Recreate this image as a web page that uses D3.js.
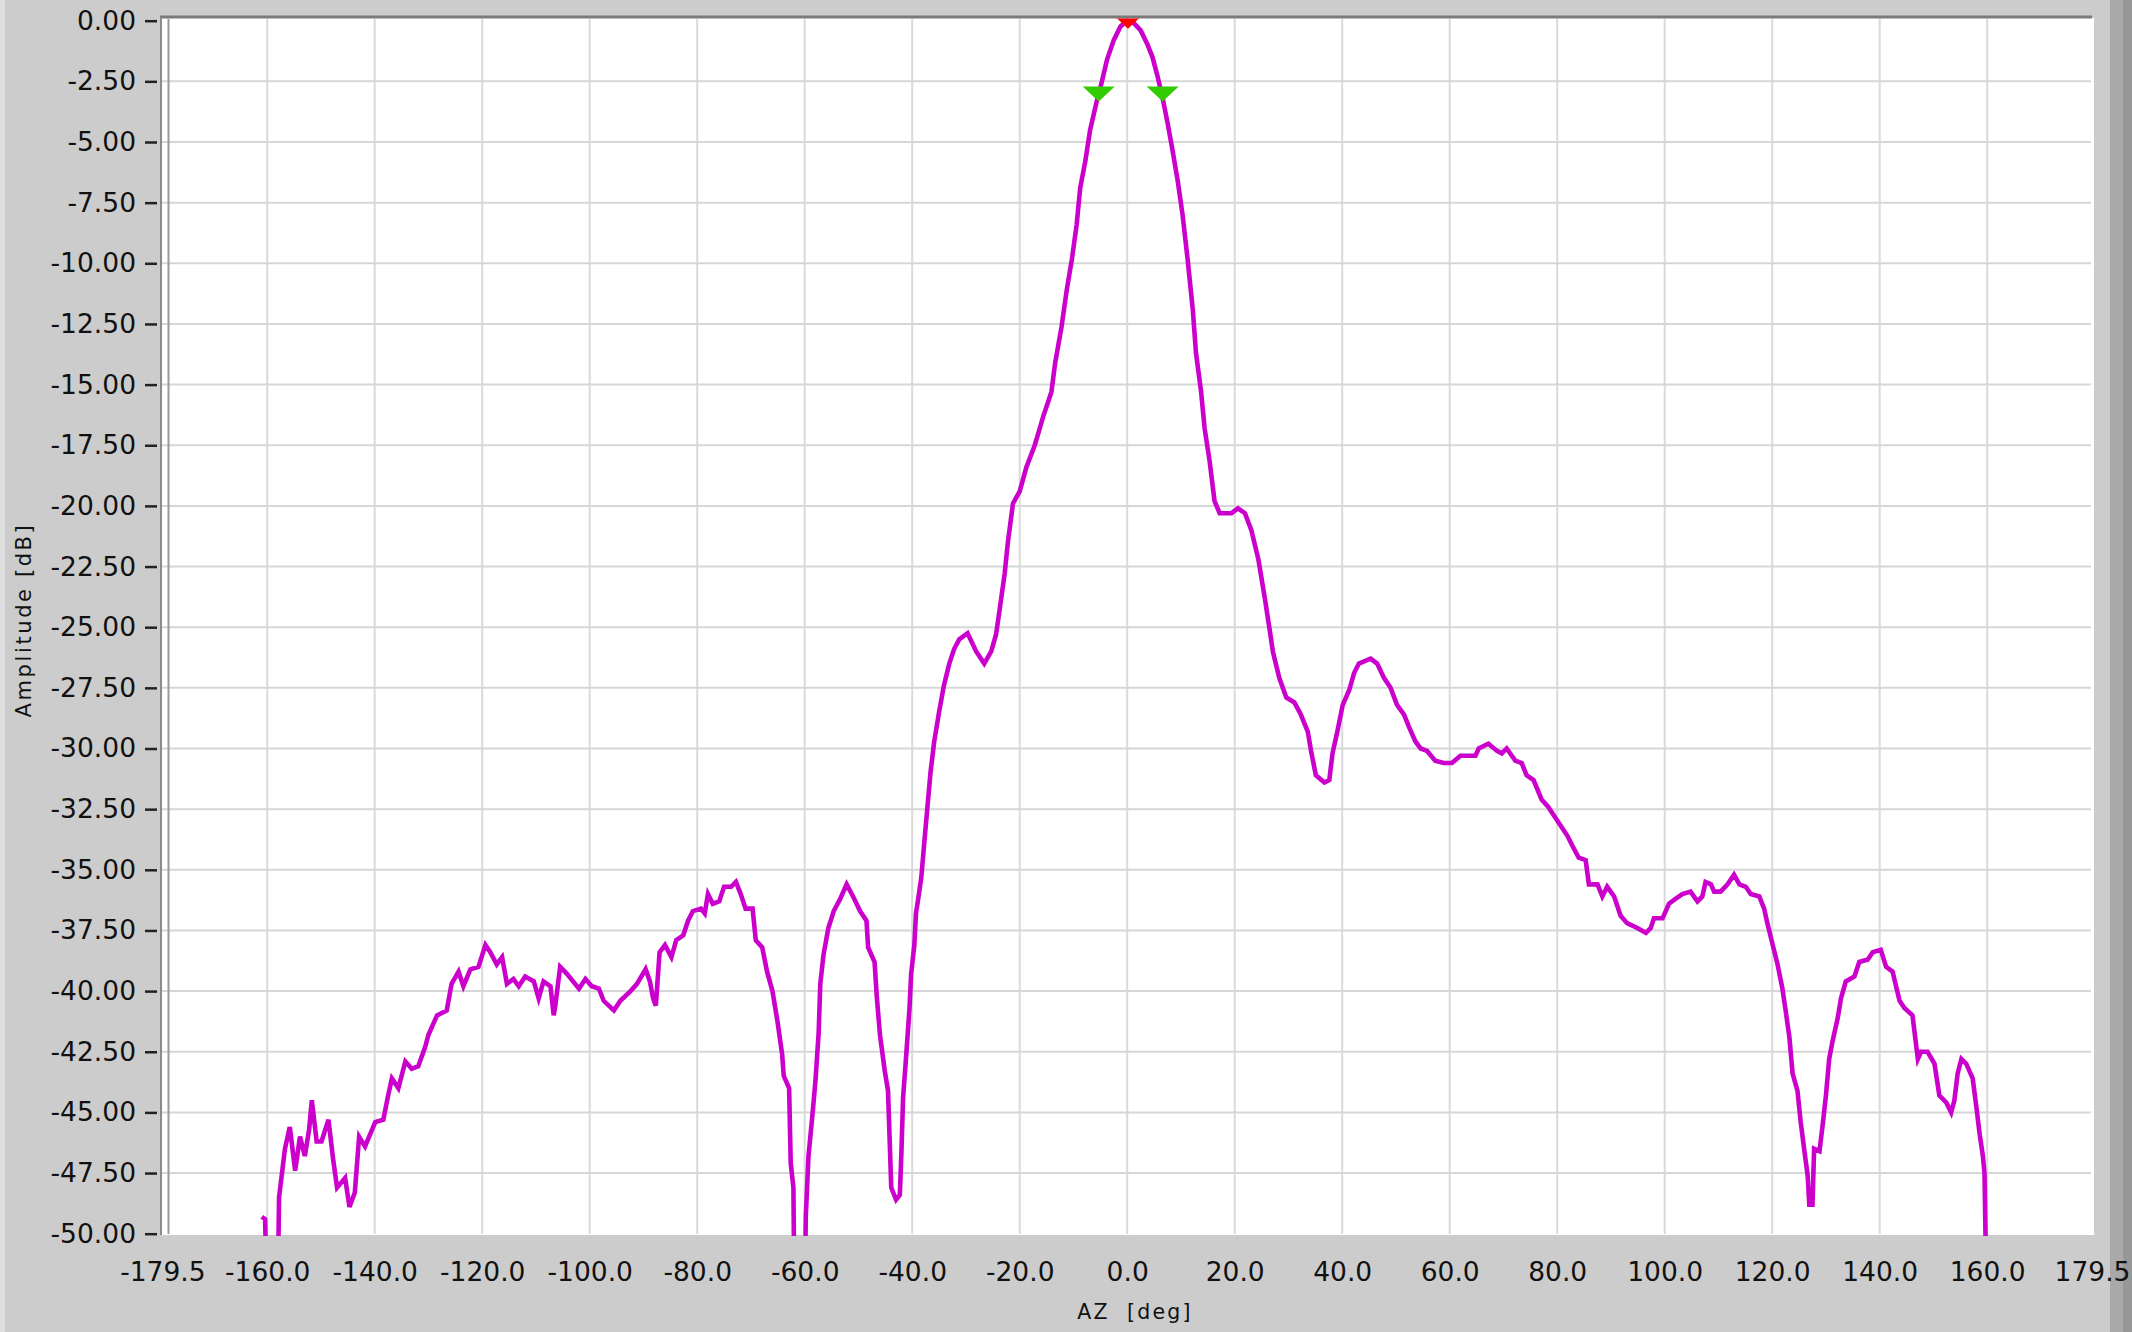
<!DOCTYPE html>
<html>
<head>
<meta charset="utf-8">
<script src="https://cdn.jsdelivr.net/npm/d3@7"></script>
<style>
  html, body { margin: 0; padding: 0; background: #cccccc; overflow: hidden; }
  text { font-family: "DejaVu Sans", Verdana, sans-serif; fill: #111; }
</style>
</head>
<body>
<svg id="chart" width="2132" height="1332"></svg>
<script>
// antenna pattern, azimuth cut
const azDeg = [
  -161.0, -160.4, -160.1, -158.0, -157.8, -157.3, -156.7, -155.8, -154.8, -153.9,
  -153.0, -152.2, -151.7, -150.8, -149.9, -148.6, -147.7, -147.0, -145.5, -144.7,
  -143.7, -142.9, -141.8, -139.9, -138.4, -137.5, -136.8, -135.6, -134.3, -133.1,
  -131.9, -130.6, -130.0, -128.4, -126.6, -125.7, -124.4, -123.5, -122.2, -120.7,
  -119.4, -118.5, -117.3, -116.3, -115.4, -114.2, -113.2, -112.0, -110.4, -109.5,
  -108.6, -107.3, -106.7, -106.4, -105.5, -104.2, -102.0, -100.8, -99.6, -98.3,
  -97.4, -95.5, -94.3, -92.4, -91.2, -89.6, -88.8, -88.2, -87.7, -87.0,
  -86.0, -84.8, -83.9, -82.6, -81.7, -80.8, -79.3, -78.6, -78.0, -77.1,
  -75.9, -75.0, -73.7, -72.8, -71.9, -71.0, -69.7, -69.1, -67.9, -67.0,
  -66.0, -65.1, -64.2, -63.9, -62.9, -62.6, -62.1, -61.9, -60.0, -59.8,
  -59.3, -58.6, -58.0, -57.4, -57.1, -56.5, -55.6, -54.6, -53.4, -52.2,
  -51.0, -49.7, -48.5, -48.2, -47.0, -46.6, -46.0, -45.1, -44.5, -44.2,
  -43.9, -43.0, -42.3, -42.0, -41.7, -41.1, -40.5, -40.2, -39.6, -39.3,
  -38.75, -38.3, -37.8, -37.2, -36.6, -35.9, -35.0, -34.1, -33.1, -32.2,
  -31.25, -29.7, -28.1, -26.6, -25.3, -24.4, -23.75, -22.8, -22.2, -21.25,
  -20.0, -18.75, -17.2, -15.6, -14.1, -13.4, -12.2, -11.25, -10.3, -9.4,
  -8.75, -7.8, -6.9, -5.6, -4.7, -3.75, -2.5, -1.25, 0.0, 1.25,
  2.5, 3.75, 4.7, 5.6, 6.6, 7.5, 8.4, 9.4, 10.3, 11.25,
  12.2, 12.8, 13.75, 14.4, 15.3, 16.25, 17.2, 19.4, 20.6, 21.9,
  23.1, 24.4, 25.6, 26.5, 27.1, 28.3, 29.6, 31.1, 32.3, 33.6,
  34.2, 35.1, 36.7, 37.6, 38.2, 39.1, 40.1, 41.3, 42.2, 43.1,
  45.3, 46.5, 47.8, 49.0, 50.2, 51.5, 52.4, 53.6, 54.6, 55.8,
  57.3, 58.9, 60.4, 62.0, 64.8, 65.4, 67.2, 68.8, 69.7, 70.6,
  72.2, 73.4, 74.3, 75.6, 77.1, 78.3, 80.1, 81.9, 82.8, 84.0,
  85.3, 85.9, 87.5, 88.4, 89.3, 90.6, 91.8, 93.0, 94.9, 96.5,
  97.4, 98.0, 99.6, 100.8, 102.0, 103.3, 104.8, 106.1, 107.0, 107.6,
  108.6, 109.2, 110.4, 111.7, 112.9, 113.9, 115.1, 116.0, 117.6, 118.5,
  119.1, 120.1, 121.0, 121.9, 122.5, 123.2, 123.8, 124.7, 125.3, 126.0,
  126.6, 126.9, 127.5, 127.8, 128.8, 129.4, 130.0, 130.6, 131.2, 132.2,
  132.8, 133.7, 135.3, 136.2, 137.8, 138.7, 140.2, 141.2, 142.4, 143.7,
  144.6, 146.1, 147.1, 147.7, 148.9, 150.2, 151.1, 152.4, 153.3, 153.9,
  154.5, 155.2, 156.1, 157.3, 158.0, 158.6, 159.2, 159.5, 159.9
];
const ampDb = [
  -49.3, -49.4, -52.0, -52.0, -48.5, -47.6, -46.5, -45.6, -47.4, -46.0,
  -46.8, -45.7, -44.5, -46.2, -46.2, -45.3, -47.0, -48.1, -47.7, -48.9,
  -48.3, -46.0, -46.4, -45.4, -45.3, -44.3, -43.6, -44.0, -42.9, -43.2,
  -43.1, -42.3, -41.8, -41.0, -40.8, -39.7, -39.2, -39.8, -39.1, -39.0,
  -38.1, -38.4, -38.9, -38.6, -39.7, -39.5, -39.8, -39.4, -39.6, -40.3,
  -39.6, -39.8, -41.0, -40.6, -39.0, -39.3, -39.9, -39.5, -39.8, -39.9,
  -40.4, -40.8, -40.4, -40.0, -39.7, -39.1, -39.6, -40.3, -40.6, -38.4,
  -38.1, -38.6, -37.9, -37.7, -37.1, -36.7, -36.6, -36.8, -36.0, -36.4,
  -36.3, -35.7, -35.7, -35.5, -36.0, -36.6, -36.6, -37.9, -38.2, -39.2,
  -40.0, -41.2, -42.6, -43.5, -44.0, -47.1, -48.1, -53.0, -53.0, -49.3,
  -46.8, -45.2, -43.7, -41.7, -39.7, -38.5, -37.4, -36.7, -36.2, -35.6,
  -36.1, -36.7, -37.1, -38.2, -38.8, -40.2, -41.8, -43.3, -44.1, -46.1,
  -48.1, -48.6, -48.4, -46.6, -44.4, -42.6, -40.7, -39.3, -38.1, -36.8,
  -36.0, -35.3, -34.0, -32.5, -31.0, -29.7, -28.5, -27.4, -26.5, -25.9,
  -25.5, -25.25, -26.0, -26.5, -26.0, -25.3, -24.3, -22.8, -21.5, -19.9,
  -19.4, -18.4, -17.5, -16.3, -15.3, -14.1, -12.6, -11.1, -9.85, -8.4,
  -6.9, -5.8, -4.5, -3.26, -2.5, -1.6, -0.8, -0.24, 0.0, -0.1,
  -0.4, -0.97, -1.5, -2.25, -3.2, -4.2, -5.3, -6.6, -8.0, -9.85,
  -11.9, -13.7, -15.3, -16.8, -18.1, -19.8, -20.3, -20.3, -20.1, -20.3,
  -21.0, -22.2, -23.8, -25.1, -26.0, -27.1, -27.9, -28.1, -28.6, -29.3,
  -30.1, -31.1, -31.4, -31.3, -30.2, -29.3, -28.2, -27.6, -26.9, -26.5,
  -26.3, -26.5, -27.1, -27.5, -28.2, -28.6, -29.1, -29.7, -30.0, -30.1,
  -30.5, -30.6, -30.6, -30.3, -30.3, -30.0, -29.8, -30.1, -30.2, -30.0,
  -30.5, -30.6, -31.1, -31.3, -32.1, -32.4, -33.0, -33.6, -34.0, -34.5,
  -34.6, -35.6, -35.6, -36.1, -35.7, -36.1, -36.9, -37.2, -37.4, -37.6,
  -37.4, -37.0, -37.0, -36.4, -36.2, -36.0, -35.9, -36.3, -36.1, -35.5,
  -35.6, -35.9, -35.9, -35.6, -35.2, -35.6, -35.7, -36.0, -36.1, -36.6,
  -37.2, -38.1, -38.9, -39.9, -40.8, -41.9, -43.4, -44.1, -45.4, -46.6,
  -47.6, -48.8, -48.8, -46.5, -46.6, -45.5, -44.3, -42.8, -42.1, -41.1,
  -40.3, -39.6, -39.4, -38.8, -38.7, -38.4, -38.3, -39.0, -39.2, -40.4,
  -40.7, -41.0, -42.8, -42.5, -42.5, -43.0, -44.3, -44.6, -45.0, -44.5,
  -43.4, -42.8, -43.0, -43.6, -44.8, -45.9, -46.8, -47.5, -53.0
];

// cursors: peak and the two -3 dB points
const cursorAz = [0.15, -5.3, 6.6];
const cursorDb = [0.0, -3.0, -3.0];

const xTicks = [-179.5, -160, -140, -120, -100, -80, -60, -40, -20, 0, 20, 40, 60, 80, 100, 120, 140, 160, 179.5];
const xGrid = [-160, -140, -120, -100, -80, -60, -40, -20, 0, 20, 40, 60, 80, 100, 120, 140, 160];
const yTicks = d3.range(0, -50.01, -2.5);

const xLabel = 'AZ  [deg]';
const yLabel = 'Amplitude [dB]';

let svg = d3.select('#chart')

let x = d3.scaleLinear().domain([-179.5, 179.5]).range([162.4, 2092])
let y = d3.scaleLinear().domain([0, -50]).range([20.7, 1233.7])

// window background + right side strips
svg.append('rect').attr('width', 2132).attr('height', 1332).attr('fill', '#cccccc')
svg.append('rect').attr('x', 0).attr('width', 5).attr('height', 1332).attr('fill', '#dedede')
svg.append('rect').attr('x', 2110).attr('width', 13).attr('height', 1332).attr('fill', '#a9a9a9')
svg.append('rect').attr('x', 2123).attr('width', 9).attr('height', 1332).attr('fill', '#979797')

// plot area
svg.append('rect')
    .attr('x', 160).attr('y', 18)
    .attr('width', 2094 - 160).attr('height', 1235 - 18)
    .attr('fill', '#ffffff')

svg.append('defs').append('clipPath').attr('id', 'plotclip')
    .append('rect')
    .attr('x', 161).attr('y', 18.5)
    .attr('width', 2094 - 161).attr('height', 1236 - 18.5)

// grid
svg.append('g').selectAll('line')
    .data(xGrid)
    .enter()
    .append('line')
    .attr('x1', (d) => x(d)).attr('x2', (d) => x(d))
    .attr('y1', 19).attr('y2', 1234)
    .attr('stroke', '#dadada').attr('stroke-width', 2)

svg.append('g').selectAll('line')
    .data(yTicks.filter((d) => d < 0 && d > -50))
    .enter()
    .append('line')
    .attr('x1', 162).attr('x2', 2091)
    .attr('y1', (d) => y(d)).attr('y2', (d) => y(d))
    .attr('stroke', '#d6d6d6').attr('stroke-width', 2)

// frame lines
svg.append('line').attr('x1', 160).attr('x2', 2092).attr('y1', 17).attr('y2', 17)
    .attr('stroke', '#7a7a7a').attr('stroke-width', 3)
svg.append('line').attr('x1', 161).attr('x2', 161).attr('y1', 17).attr('y2', 1235)
    .attr('stroke', '#8a8a8a').attr('stroke-width', 2)
svg.append('line').attr('x1', 168.5).attr('x2', 168.5).attr('y1', 19).attr('y2', 1234)
    .attr('stroke', '#9a9a9a').attr('stroke-width', 2)

// axes
let yAxis = d3.axisLeft(y)
    .tickValues(yTicks)
    .tickFormat((d) => d.toFixed(2))
    .tickSize(12)
    .tickPadding(9)

svg.append('g')
    .attr('transform', 'translate(157,0)')
    .call(yAxis)
    .call((g) => g.select('.domain').remove())
    .call((g) => g.selectAll('.tick line').attr('stroke', '#222').attr('stroke-width', 2.5))
    .call((g) => g.selectAll('.tick text').attr('font-size', 26.5).attr('fill', '#111')
        .attr('font-family', '"DejaVu Sans", Verdana, sans-serif'))

let xAxis = d3.axisBottom(x)
    .tickValues(xTicks)
    .tickFormat((d) => d.toFixed(1))
    .tickSize(0)
    .tickPadding(28)

svg.append('g')
    .attr('transform', 'translate(0,1234)')
    .call(xAxis)
    .call((g) => g.select('.domain').remove())
    .call((g) => g.selectAll('.tick text').attr('font-size', 26.5).attr('fill', '#111')
        .attr('font-family', '"DejaVu Sans", Verdana, sans-serif'))

// axis titles
svg.append('text')
    .attr('x', 1135).attr('y', 1319)
    .attr('text-anchor', 'middle')
    .attr('font-size', 20.5)
    .attr('letter-spacing', 2.2)
    .style('white-space', 'pre')
    .text(xLabel)

svg.append('text')
    .attr('transform', 'translate(31,620) rotate(-90)')
    .attr('text-anchor', 'middle')
    .attr('font-size', 21)
    .attr('letter-spacing', 2.6)
    .text(yLabel)

// pattern trace
let points = azDeg.map((a, i) => [a, ampDb[i]])
let line = d3.line()
    .x((d) => x(d[0]))
    .y((d) => y(d[1]))

let plot = svg.append('g').attr('clip-path', 'url(#plotclip)')

plot.append('path')
    .datum(points)
    .attr('d', line)
    .attr('fill', 'none')
    .attr('stroke', '#cc00cc')
    .attr('stroke-width', 4.6)
    .attr('stroke-linejoin', 'miter')

// cursor markers (down triangles)
plot.selectAll('.cursor')
    .data(cursorAz.map((a, i) => [a, cursorDb[i], i]))
    .enter()
    .append('path')
    .attr('class', 'cursor')
    .attr('d', 'M-16,-7 L16,-7 L0,8 Z')
    .attr('transform', (d) => 'translate(' + x(d[0]) + ',' + y(d[1]) + ')')
    .attr('fill', (d) => d[2] === 0 ? '#ff0000' : '#33cc00')
</script>
</body>
</html>
